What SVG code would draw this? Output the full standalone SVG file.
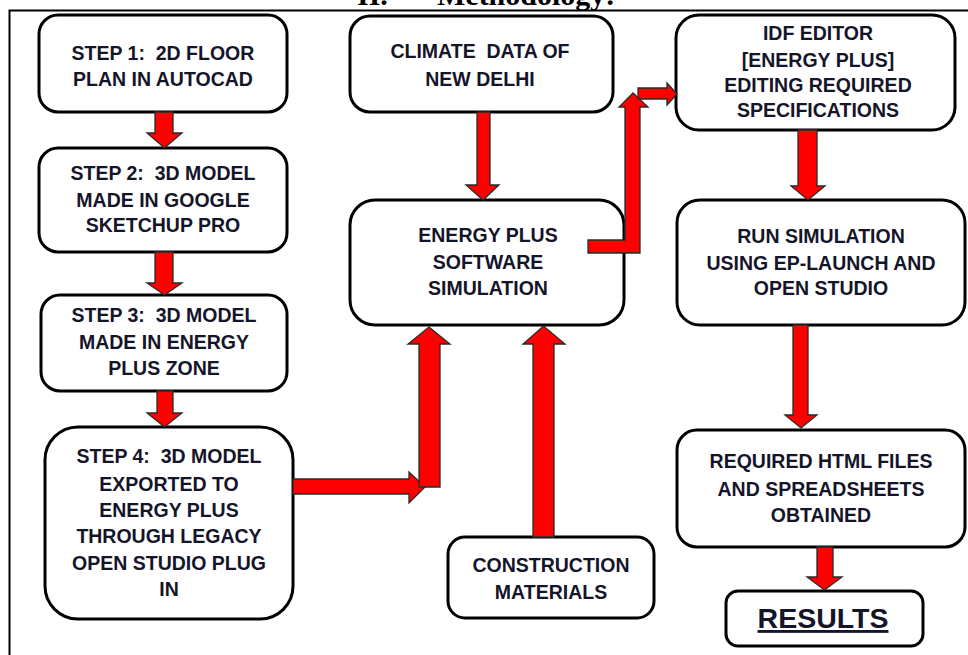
<svg xmlns="http://www.w3.org/2000/svg" width="968" height="655" viewBox="0 0 968 655">
<style>
  .box { fill: #ffffff; stroke: #000000; stroke-width: 3; }
  .t { font-family: "Liberation Sans", Arial, sans-serif; font-weight: bold; font-size: 19.5px; fill: #15152a; text-anchor: middle; white-space: pre; }
  .arr { fill: #ff0000; stroke: #2a2a2a; stroke-width: 1.3; stroke-linejoin: miter; }
  .frame { stroke: #000000; stroke-width: 2; fill: none; }
  .title { font-family: "Liberation Serif", "Times New Roman", serif; font-weight: bold; font-size: 30px; fill: #000000; }
</style>
<rect width="968" height="655" fill="#ffffff"/>
<text class="title" y="5"><tspan x="357">II.</tspan><tspan x="437">Methodology:</tspan></text>
<path class="frame" d="M9.5 655 V10.5 H968"/>

<g id="step1">
  <rect class="box" x="39" y="15" width="248" height="97" rx="19"/>
  <text class="t" x="163" y="60" xml:space="preserve">STEP 1:  2D FLOOR</text>
  <text class="t" x="163" y="86">PLAN IN AUTOCAD</text>
</g>
<g id="step2">
  <rect class="box" x="39" y="148" width="248" height="104" rx="19"/>
  <text class="t" x="163" y="180" xml:space="preserve">STEP 2:  3D MODEL</text>
  <text class="t" x="163" y="207">MADE IN GOOGLE</text>
  <text class="t" x="163" y="232">SKETCHUP PRO</text>
</g>
<g id="step3">
  <rect class="box" x="41" y="295" width="246" height="96" rx="19"/>
  <text class="t" x="164" y="322" xml:space="preserve">STEP 3:  3D MODEL</text>
  <text class="t" x="164" y="349">MADE IN ENERGY</text>
  <text class="t" x="164" y="375">PLUS ZONE</text>
</g>
<g id="step4">
  <rect class="box" x="45" y="427" width="248" height="192" rx="33"/>
  <text class="t" x="169" y="463" xml:space="preserve">STEP 4:  3D MODEL</text>
  <text class="t" x="169" y="491">EXPORTED TO</text>
  <text class="t" x="169" y="517">ENERGY PLUS</text>
  <text class="t" x="169" y="543">THROUGH LEGACY</text>
  <text class="t" x="169" y="570">OPEN STUDIO PLUG</text>
  <text class="t" x="169" y="596">IN</text>
</g>
<g id="climate">
  <rect class="box" x="350" y="16" width="263" height="96" rx="20"/>
  <text class="t" x="480" y="58" xml:space="preserve">CLIMATE  DATA OF</text>
  <text class="t" x="480" y="86">NEW DELHI</text>
</g>
<g id="energyplus">
  <rect class="box" x="350" y="200" width="274" height="125" rx="25"/>
  <text class="t" x="488" y="242">ENERGY PLUS</text>
  <text class="t" x="488" y="269">SOFTWARE</text>
  <text class="t" x="488" y="295">SIMULATION</text>
</g>
<g id="construction">
  <rect class="box" x="448" y="537" width="206" height="81" rx="17"/>
  <text class="t" x="551" y="572">CONSTRUCTION</text>
  <text class="t" x="551" y="599">MATERIALS</text>
</g>
<g id="idf">
  <rect class="box" x="676" y="15" width="279" height="115" rx="23"/>
  <text class="t" x="818" y="40">IDF EDITOR</text>
  <text class="t" x="818" y="67">[ENERGY PLUS]</text>
  <text class="t" x="818" y="92">EDITING REQUIRED</text>
  <text class="t" x="818" y="117">SPECIFICATIONS</text>
</g>
<g id="run">
  <rect class="box" x="677" y="200" width="288" height="125" rx="23"/>
  <text class="t" x="821" y="243">RUN SIMULATION</text>
  <text class="t" x="821" y="270">USING EP-LAUNCH AND</text>
  <text class="t" x="821" y="295">OPEN STUDIO</text>
</g>
<g id="required">
  <rect class="box" x="677" y="430" width="288" height="117" rx="20"/>
  <text class="t" x="821" y="468">REQUIRED HTML FILES</text>
  <text class="t" x="821" y="496">AND SPREADSHEETS</text>
  <text class="t" x="821" y="522">OBTAINED</text>
</g>
<g id="results">
  <rect class="box" x="726" y="591" width="197" height="55" rx="12"/>
  <text class="t" x="823" y="628" style="font-size:28.5px" text-decoration="underline">RESULTS</text>
</g>

<g id="connectors">
  <polygon class="arr" points="155,112 173,112 173,133 182,133 164.5,148 147,133 155,133"/>
  <polygon class="arr" points="155,252 173,252 173,283 182,283 164.5,295 147,283 155,283"/>
  <polygon class="arr" points="157,391 173,391 173,413 182,413 164.5,427 147,413 157,413"/>
  <polygon class="arr" points="293,479 409,479 409,472 425,487 409,503 409,494 293,494"/>
  <polygon class="arr" points="419,487 419,344 408,344 429,327 450,344 440,344 440,487"/>
  <polygon class="arr" points="477,112 490,112 490,185 499,185 483,200 466,185 477,185"/>
  <polygon class="arr" points="533,537 533,344 523,344 543.5,326 565,344 554,344 554,537"/>
  <polygon class="arr" points="588,240 625,240 625,107 619,107 633,93 648,107 640,107 640,253 588,253"/>
  <polygon class="arr" points="638,88 667,88 667,83 677,94 667,105 667,99 638,99"/>
  <polygon class="arr" points="798,130 817,130 817,186 825,186 808,200 791,186 798,186"/>
  <polygon class="arr" points="793,325 808,325 808,415 817,415 801,428 785,415 793,415"/>
  <polygon class="arr" points="817,547 833,547 833,577 842,577 824.5,590 807,577 817,577"/>
</g>
</svg>
